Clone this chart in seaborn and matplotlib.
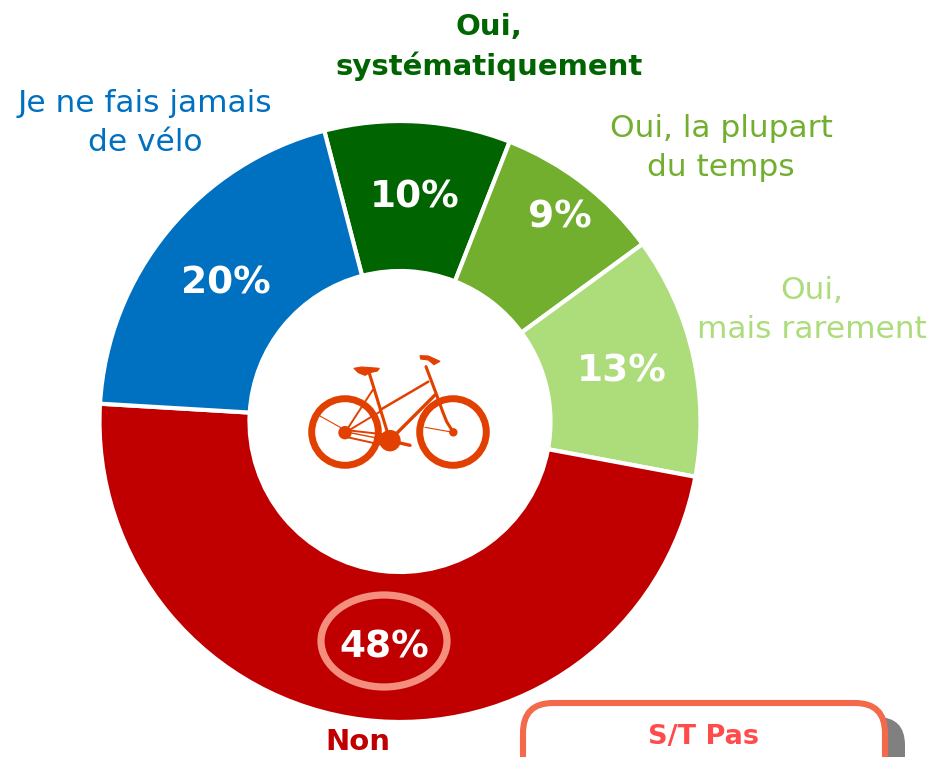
import matplotlib
matplotlib.use("Agg")
import matplotlib.pyplot as plt
from matplotlib.patches import Circle, Ellipse, FancyBboxPatch, Polygon
import seaborn as sns

categories = ["Oui,\nsystématiquement", "Oui, la plupart\ndu temps", "Oui,\nmais rarement", "Non", "Je ne fais jamais\nde vélo"]
values = [10, 9, 13, 48, 20]
colors = ["#006400", "#72AF2F", "#ADDC7A", "#C00000", "#0070C0"]
label_colors = ["#006400", "#72AF2F", "#ADDC7A", "#C00000", "#0070C0"]
label_pos = [(489, 47), (721, 148), (812, 310), (358, 742), (145, 123)]
label_bold = [True, False, False, True, False]
pct_pos = [(415, 198), (560, 218), (622, 371), (384, 648), (226, 283)]

W, H = 933, 757
sns.set_theme(style="white")
plt.rcParams["font.family"] = ["DejaVu Sans"]
fig = plt.figure(figsize=(W / 100, H / 100), dpi=100)
ax = fig.add_axes([0, 0, 1, 1])

def Y(y):
    return H - y

palette = sns.color_palette(colors)
ax.pie(values, colors=palette, startangle=104.6, counterclock=False,
       center=(400, Y(421.5)), radius=300.5,
       wedgeprops=dict(width=150, edgecolor="white", linewidth=3))
ax.set_xlim(0, W)
ax.set_ylim(0, H)
ax.set_aspect("equal")
ax.axis("off")

for t, p, c, b in zip(categories, label_pos, label_colors, label_bold):
    ax.text(p[0], Y(p[1]), t, color=c, ha="center", va="center",
            fontsize=21 if b else 22.5,
            fontweight="bold" if b else "normal", linespacing=1.42)
for v, p in zip(values, pct_pos):
    ax.text(p[0], Y(p[1]), f"{v}%", color="white", ha="center", va="center",
            fontsize=27, fontweight="bold")

# highlight around the main value
ax.add_patch(Ellipse((384, Y(641)), 126, 92, fill=False, ec="#F48F7E", lw=5.2))

# bicycle icon
B = "#E24000"
def zx(x): return 290 + x / 3
def zy(y): return Y(340 + y / 3)
def seg(pts, lw):
    ax.plot([zx(p[0]) for p in pts], [zy(p[1]) for p in pts], color=B, lw=lw,
            solid_capstyle="round", solid_joinstyle="round")
def poly(pts):
    ax.add_patch(Polygon([(zx(p[0]), zy(p[1])) for p in pts], closed=True, fc=B, ec=B, lw=0.8))
for cx in (165, 489):
    ax.add_patch(Circle((zx(cx), zy(276)), 33.3, fill=False, ec=B, lw=5.0))
ax.add_patch(Circle((zx(165), zy(278)), 6, color=B))
ax.add_patch(Circle((zx(490), zy(277)), 3.5, color=B))
ax.add_patch(Circle((zx(300), zy(302)), 10, color=B))
seg([(238, 100), (300, 302)], 2.2)
seg([(415, 125), (270, 210)], 1.8)
seg([(435, 165), (315, 285)], 2.4)
seg([(408, 80), (440, 165), (458, 215), (470, 245), (490, 277)], 2.2)
seg([(248, 150), (165, 278)], 1.4)
seg([(270, 215), (165, 278)], 1.4)
seg([(165, 270), (300, 285)], 1.4)
seg([(165, 290), (300, 320)], 1.4)
seg([(165, 275), (290, 300)], 1.0)
seg([(90, 228), (165, 270)], 0.8)
seg([(405, 262), (490, 277)], 0.8)
seg([(300, 302), (360, 316)], 2.4)
poly([(192, 85), (215, 81), (268, 85), (262, 93), (240, 98), (225, 106), (205, 98)])
poly([(390, 47), (415, 48), (450, 64), (432, 74), (415, 60), (392, 57)])

# summary box, cropped by the bottom of the figure
ax.add_patch(FancyBboxPatch((545, Y(800)), 360, 83, boxstyle="round,pad=0,rounding_size=28",
                            fc="#808080", ec="none", zorder=2))
ax.add_patch(FancyBboxPatch((523, Y(800)), 362, 97, boxstyle="round,pad=0,rounding_size=30",
                            fc="white", ec="#F4694A", lw=4.4, zorder=3))
ax.text(704, Y(737), "S/T Pas", color="#FF4B4B", ha="center", va="center",
        fontsize=19.5, fontweight="bold", zorder=4)

fig.savefig("out.png", dpi=100, facecolor="white")
